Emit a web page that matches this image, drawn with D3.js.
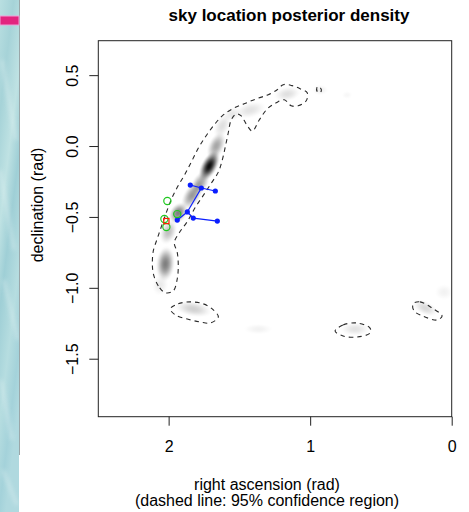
<!DOCTYPE html>
<html>
<head>
<meta charset="utf-8">
<script src="https://cdn.jsdelivr.net/npm/d3@7"></script>
<style>
  html, body { margin: 0; padding: 0; background: #ffffff; }
  svg { display: block; }
  text { font-family: "Liberation Sans", Arial, Helvetica, sans-serif; fill: #000; }
</style>
</head>
<body>
<svg id="chart" width="469" height="512"></svg>
<script>
// ---------------- data ----------------
const title = "sky location posterior density";
const xTitle = ["right ascension (rad)", "(dashed line: 95% confidence region)"];
const yTitle = "declination (rad)";

const raDomain = [2.497, 0];
const decDomain = [-1.909, 0.743];
const raTicks = [2, 1, 0];
const decTicks = [0.5, 0.0, -0.5, -1.0, -1.5];

// posterior density components: centre (ra, dec), spread along / across (rad), tilt (deg), weight
const blobRA    = [1.713, 1.663, 1.833, 1.932, 2.002, 2.023, 1.621, 1.423, 1.162, 0.929, 1.826, 1.367, 0.682, 0.188, 0.054, 1.550, 0.739, 2.059, 1.776];
const blobDec   = [-0.141, 0.000, -0.346, -0.472, -0.606, -0.832, 0.141, 0.254, 0.367, 0.395, -1.149, -1.291, -1.291, -1.142, -1.030, 0.226, 0.360, -0.980, -0.261];
const blobAlong = [0.125, 0.110, 0.120, 0.085, 0.095, 0.130, 0.100, 0.120, 0.100, 0.060, 0.140, 0.110, 0.110, 0.100, 0.070, 0.070, 0.040, 0.080, 0.090];
const blobAcross= [0.060, 0.060, 0.062, 0.062, 0.060, 0.070, 0.055, 0.060, 0.055, 0.040, 0.058, 0.040, 0.050, 0.050, 0.060, 0.050, 0.030, 0.060, 0.060];
const blobTilt  = [-62, -65, -58, -55, -70, -85, -65, -15, -10, 0, 10, 0, 0, 25, 0, -20, 0, -80, -60];
const blobWeight= [0.95, 0.35, 0.40, 0.50, 0.25, 0.50, 0.12, 0.11, 0.12, 0.06, 0.18, 0.05, 0.11, 0.15, 0.05, 0.09, 0.03, 0.08, 0.35];

// 95% confidence region contours, [ra, dec]
const contourMain = [
  [2.023,-1.035],[2.073,-0.986],[2.108,-0.901],[2.115,-0.823],[2.108,-0.738],[2.080,-0.652],
  [2.051,-0.567],[2.016,-0.468],[1.981,-0.376],[1.939,-0.291],[1.889,-0.206],[1.840,-0.113],
  [1.790,-0.014],[1.741,0.064],[1.684,0.142],[1.621,0.213],[1.550,0.262],[1.466,0.298],
  [1.381,0.333],[1.296,0.362],[1.233,0.397],[1.190,0.433],[1.127,0.426],[1.071,0.404],
  [1.021,0.376],[1.028,0.319],[1.085,0.284],[1.134,0.284],[1.183,0.326],[1.240,0.305],
  [1.303,0.262],[1.360,0.184],[1.409,0.106],[1.452,0.156],[1.487,0.213],[1.522,0.227],
  [1.558,0.184],[1.579,0.092],[1.600,-0.007],[1.621,-0.099],[1.649,-0.184],[1.699,-0.262],
  [1.755,-0.348],[1.812,-0.433],[1.868,-0.532],[1.924,-0.610],[1.960,-0.681],[1.939,-0.752],
  [1.932,-0.844],[1.939,-0.936],[1.967,-1.021]
];
const contourTip = [[0.950,0.418],[0.928,0.411],[0.921,0.390],[0.936,0.376],[0.950,0.383]];
const contourLow = [[1.988,-1.149],[1.932,-1.113],[1.847,-1.099],[1.755,-1.113],[1.692,-1.149],
  [1.649,-1.206],[1.706,-1.248],[1.776,-1.241],[1.868,-1.220],[1.953,-1.191]];
const contourMid = [[0.824,-1.305],[0.767,-1.262],[0.668,-1.248],[0.577,-1.284],[0.577,-1.319],
  [0.668,-1.347],[0.767,-1.340]];
const contourRight = [[0.273,-1.113],[0.224,-1.099],[0.139,-1.142],[0.068,-1.199],[0.104,-1.227],
  [0.203,-1.199],[0.266,-1.163]];
const contours = [contourMain, contourTip, contourLow, contourMid, contourRight];

// blue track points and links
const blueRA  = [1.847, 1.769, 1.670, 1.868, 1.826, 1.656, 1.939];
const blueDec = [-0.275, -0.296, -0.317, -0.465, -0.508, -0.529, -0.522];
const blueLinks = [[0,1],[1,2],[1,3],[3,4],[4,5],[3,6]];

// green circles and red square
const greenRA  = [2.009, 1.939, 2.030, 2.016];
const greenDec = [-0.388, -0.480, -0.515, -0.571];
const redRA  = [2.016];
const redDec = [-0.529];

// ---------------- drawing ----------------
const svg = d3.select("#chart");
const plot = {left: 98.3, right: 451.7, top: 40.7, bottom: 416.7};
const x = d3.scaleLinear().domain(raDomain).range([plot.left, plot.right]);
const y = d3.scaleLinear().domain(decDomain).range([plot.bottom, plot.top]);
const pxPerRad = Math.abs(x(1) - x(0));

const defs = svg.append("defs");

// left decorative strip
const stripGrad = defs.append("linearGradient").attr("id", "strip")
  .attr("x1", 0).attr("y1", 0).attr("x2", 0.3).attr("y2", 1);
[["0", "#b9dfe1"], ["0.2", "#a6d3d8"], ["0.4", "#bfe2e3"], ["0.55", "#9fcfd6"],
 ["0.75", "#b6dde0"], ["0.9", "#a4d2da"], ["1", "#b0d9df"]]
  .forEach(([o, c]) => stripGrad.append("stop").attr("offset", o).attr("stop-color", c));
defs.append("filter").attr("id", "soft").append("feGaussianBlur").attr("stdDeviation", 2);
svg.append("rect").attr("x", 0).attr("y", 0).attr("width", 19).attr("height", 512).attr("fill", "url(#strip)");
const streaks = svg.append("g").attr("filter", "url(#soft)").attr("opacity", 0.45);
[[2, 60, 16, 140], [0, 170, 14, 250], [4, 280, 18, 340], [1, 380, 12, 440], [3, 470, 17, 505]]
  .forEach(s => streaks.append("line").attr("x1", s[0]).attr("y1", s[1]).attr("x2", s[2]).attr("y2", s[3])
    .attr("stroke", "#eaf6f6").attr("stroke-width", 3));
svg.append("line").attr("x1", 19.5).attr("x2", 19.5).attr("y1", 0).attr("y2", 455)
  .attr("stroke", "#9aa6a8").attr("stroke-width", 1);
svg.append("rect").attr("x", 0).attr("y", 16).attr("width", 19).attr("height", 9)
  .attr("fill", "#e2257f").attr("stroke", "#efa0d8").attr("stroke-width", 1);

// density blobs
const g = defs.append("radialGradient").attr("id", "blob");
d3.range(0, 1.0001, 0.1).forEach(t => {
  g.append("stop").attr("offset", t).attr("stop-color", "#000")
   .attr("stop-opacity", Math.pow(1 - t * t, 2));
});
defs.append("clipPath").attr("id", "plotclip").append("rect")
  .attr("x", plot.left).attr("y", plot.top)
  .attr("width", plot.right - plot.left).attr("height", plot.bottom - plot.top);

const blobs = blobRA.map((r, i) => ({ra: r, dec: blobDec[i], a: blobAlong[i], c: blobAcross[i], t: blobTilt[i], w: blobWeight[i]}));
const dens = svg.append("g").attr("clip-path", "url(#plotclip)");
dens.selectAll("ellipse").data(blobs).join("ellipse")
  .attr("cx", 0).attr("cy", 0)
  .attr("rx", d => d.a * pxPerRad).attr("ry", d => d.c * pxPerRad)
  .attr("transform", d => `translate(${x(d.ra)},${y(d.dec)}) rotate(${d.t})`)
  .attr("fill", "url(#blob)").attr("fill-opacity", d => d.w);

// contours
const line = d3.line().x(d => x(d[0])).y(d => y(d[1])).curve(d3.curveCatmullRomClosed.alpha(0.5));
svg.append("g").selectAll("path").data(contours).join("path")
  .attr("d", line).attr("fill", "none").attr("stroke", "#2a2a2a")
  .attr("stroke-width", 1.1).attr("stroke-dasharray", "4.5,4");

// blue tracks
const blue = blueRA.map((r, i) => [r, blueDec[i]]);
svg.append("g").selectAll("line").data(blueLinks).join("line")
  .attr("x1", d => x(blue[d[0]][0])).attr("y1", d => y(blue[d[0]][1]))
  .attr("x2", d => x(blue[d[1]][0])).attr("y2", d => y(blue[d[1]][1]))
  .attr("stroke", "#0a1eff").attr("stroke-width", 1.2);
svg.append("g").selectAll("circle").data(blue).join("circle")
  .attr("cx", d => x(d[0])).attr("cy", d => y(d[1])).attr("r", 2.6).attr("fill", "#0a1eff");

// green circles
svg.append("g").selectAll("circle").data(greenRA.map((r, i) => [r, greenDec[i]])).join("circle")
  .attr("cx", d => x(d[0])).attr("cy", d => y(d[1])).attr("r", 3.6)
  .attr("fill", "none").attr("stroke", "#1ec81e").attr("stroke-width", 1.2);

// red square
svg.append("g").selectAll("rect").data(redRA.map((r, i) => [r, redDec[i]])).join("rect")
  .attr("x", d => x(d[0]) - 2.6).attr("y", d => y(d[1]) - 2.6).attr("width", 5.2).attr("height", 5.2)
  .attr("fill", "none").attr("stroke", "#ff1a00").attr("stroke-width", 1.2);

// frame
svg.append("rect").attr("x", plot.left).attr("y", plot.top)
  .attr("width", plot.right - plot.left).attr("height", plot.bottom - plot.top)
  .attr("fill", "none").attr("stroke", "#222").attr("stroke-width", 1);

// axes
const xAxis = svg.append("g").attr("transform", `translate(0,${plot.bottom})`)
  .call(d3.axisBottom(x).tickValues(raTicks).tickSize(9).tickFormat(d3.format("d")));
xAxis.select(".domain").remove();
xAxis.selectAll(".tick line").attr("stroke", "#222");
xAxis.selectAll(".tick text").attr("y", 452 - plot.bottom).attr("dy", 0)
  .attr("font-size", 16).attr("font-family", "Liberation Sans, Arial, sans-serif").attr("fill", "#000");

const fmtDec = d => d.toFixed(1).replace("-", "\u2212");
const yAxis = svg.append("g").attr("transform", `translate(${plot.left},0)`)
  .call(d3.axisLeft(y).tickValues(decTicks).tickSize(9).tickFormat(fmtDec));
yAxis.select(".domain").remove();
yAxis.selectAll(".tick line").attr("stroke", "#222");
yAxis.selectAll(".tick text").attr("transform", "rotate(-90)")
  .attr("x", 0).attr("y", 77.5 - plot.left).attr("dy", 0).attr("text-anchor", "middle")
  .attr("font-size", 16).attr("font-family", "Liberation Sans, Arial, sans-serif").attr("fill", "#000");

// titles
svg.append("text").attr("x", 289).attr("y", 21).attr("text-anchor", "middle")
  .attr("font-size", 17).attr("font-weight", "bold").text(title);
svg.append("text").attr("x", 267).attr("y", 490).attr("text-anchor", "middle")
  .attr("font-size", 16).text(xTitle[0]);
svg.append("text").attr("x", 267).attr("y", 506).attr("text-anchor", "middle")
  .attr("font-size", 16).text(xTitle[1]);
svg.append("text").attr("transform", "translate(43,205) rotate(-90)").attr("text-anchor", "middle")
  .attr("font-size", 16).text(yTitle);
</script>
</body>
</html>
